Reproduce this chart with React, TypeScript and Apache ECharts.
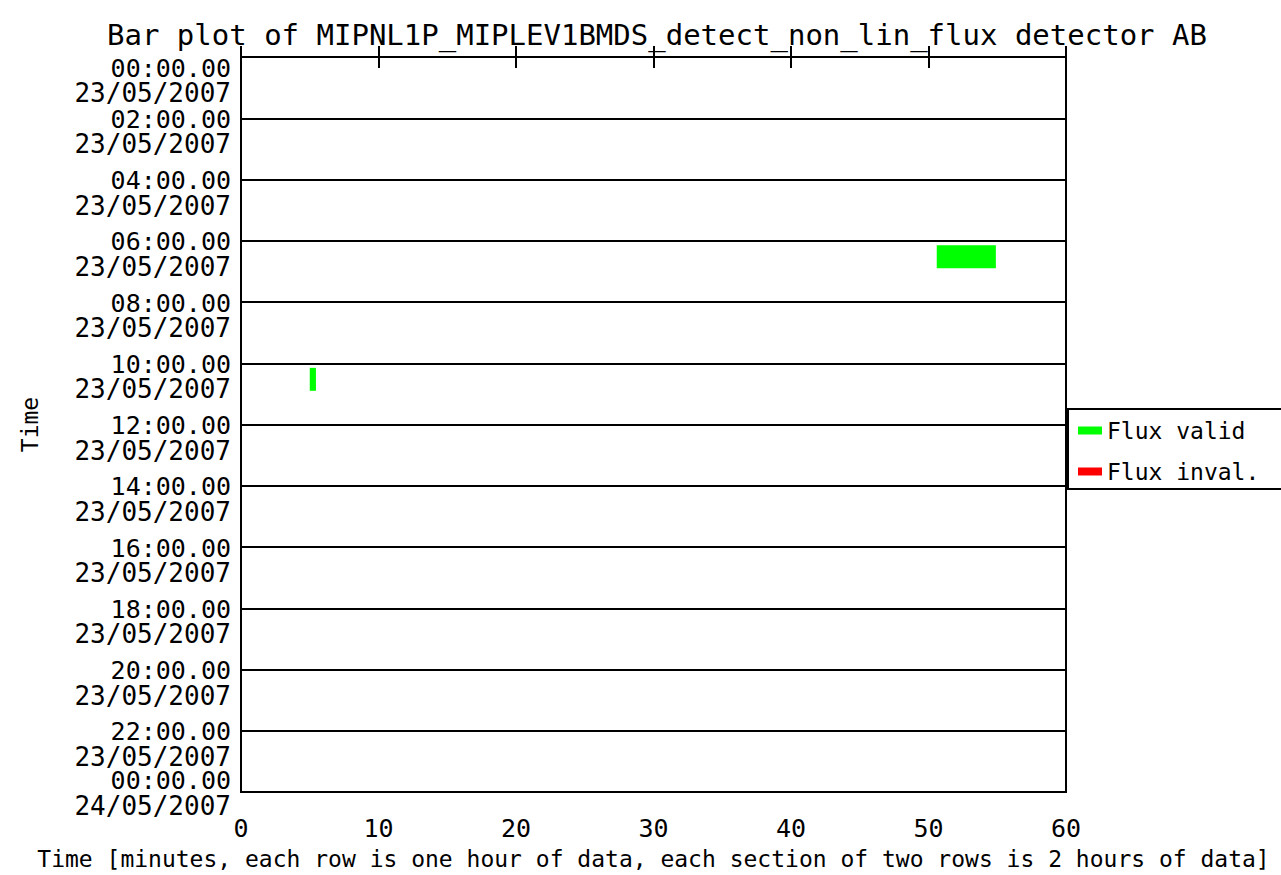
import React, { useEffect, useRef } from 'react';
import * as echarts from 'echarts';

const titleText = 'Bar plot of MIPNL1P_MIPLEV1BMDS_detect_non_lin_flux detector AB';
const xAxisName = 'Time [minutes, each row is one hour of data, each section of two rows is 2 hours of data]';
const yAxisName = 'Time';

const yTickHours = [0, 2, 4, 6, 8, 10, 12, 14, 16, 18, 20, 22, 24];
const timeLabels = ['00:00.00', '02:00.00', '04:00.00', '06:00.00', '08:00.00', '10:00.00', '12:00.00', '14:00.00', '16:00.00', '18:00.00', '20:00.00', '22:00.00', '00:00.00'];
const dateLabels = ['23/05/2007', '23/05/2007', '23/05/2007', '23/05/2007', '23/05/2007', '23/05/2007', '23/05/2007', '23/05/2007', '23/05/2007', '23/05/2007', '23/05/2007', '23/05/2007', '24/05/2007'];

const seriesNames = ['Flux valid', 'Flux inval.'];
const seriesColors = ['#00ff00', '#ff0000'];

// valid flux segments: hour row, start minute, end minute
const validHour = [6, 10];
const validStart = [50.6, 5.0];
const validEnd = [54.9, 5.45];

// invalid flux segments (none)
const invalidHour: number[] = [];
const invalidStart: number[] = [];
const invalidEnd: number[] = [];

const FONT = 'DejaVu Sans Mono';

function makeData(h: number[], s: number[], e: number[]) {
  return h.map((hv, i) => [hv, s[i], e[i]]);
}

function renderBar(color: string) {
  return (params: any, api: any) => {
    const hour = api.value(0);
    const s = api.value(1);
    const e = api.value(2);
    const p1 = api.coord([s, hour + 0.15]);
    const p2 = api.coord([e, hour + 0.9]);
    return {
      type: 'rect',
      shape: { x: p1[0], y: p1[1], width: p2[0] - p1[0], height: p2[1] - p1[1] },
      style: { fill: color },
    };
  };
}

export default function App() {
  const ref = useRef<HTMLDivElement>(null);
  useEffect(() => {
    if (!ref.current) return;
    const chart = echarts.init(ref.current, undefined, { renderer: 'svg' });
    const txt = { fontFamily: FONT, color: '#000' };
    const lastIdx = yTickHours.length - 1;
    const yBase = {
      type: 'value',
      min: 0,
      max: 24,
      interval: 2,
      inverse: true,
      position: 'left',
      offset: 0,
      axisTick: { show: false },
    };
    chart.setOption({
      animation: false,
      backgroundColor: '#fff',
      title: {
        text: titleText,
        left: 102,
        top: 15,
        textStyle: { ...txt, fontSize: 29, fontWeight: 'normal' },
      },
      grid: {
        left: 241,
        right: 215,
        top: 57,
        bottom: 83,
        outerBoundsMode: 'none',
        containLabel: false,
        show: true,
        borderColor: '#000',
        borderWidth: 2,
        backgroundColor: 'transparent',
      },
      legend: {
        orient: 'vertical',
        left: 1068,
        top: 409,
        itemWidth: 24,
        itemHeight: 8,
        itemGap: 18,
        padding: [10, 60, 6, 10],
        borderColor: '#000',
        borderWidth: 2,
        backgroundColor: '#fff',
        icon: 'rect',
        textStyle: { ...txt, fontSize: 23 },
        data: seriesNames,
      },
      xAxis: [
        {
          type: 'value',
          min: 0,
          max: 60,
          interval: 10,
          position: 'bottom',
          name: xAxisName,
          nameLocation: 'middle',
          nameGap: 55,
          nameTextStyle: { ...txt, fontSize: 23 },
          axisLine: { show: true, lineStyle: { color: '#000', width: 2 } },
          axisTick: { show: true, inside: true, length: 11, lineStyle: { color: '#000', width: 2 } },
          axisLabel: { ...txt, fontSize: 25, margin: 24 },
          splitLine: { show: false },
        },
        {
          type: 'value',
          min: 0,
          max: 60,
          interval: 10,
          position: 'top',
          axisLine: { show: true, lineStyle: { color: '#000', width: 2 } },
          axisTick: { show: true, inside: true, length: 11, lineStyle: { color: '#000', width: 2 } },
          axisLabel: { show: false },
          splitLine: { show: false },
        },
      ],
      yAxis: [
        {
          ...yBase,
          name: yAxisName,
          nameLocation: 'middle',
          nameGap: 200,
          nameRotate: 90,
          nameTextStyle: { ...txt, fontSize: 23 },
          axisLine: { show: true, lineStyle: { color: '#000', width: 2 } },
          splitLine: { show: true, lineStyle: { color: '#000', width: 2 } },
          axisLabel: {
            ...txt,
            fontSize: 25,
            margin: 10,
            verticalAlign: 'middle',
            showMinLabel: true,
            showMaxLabel: true,
            hideOverlap: false,
            formatter: (value: number) => {
              const i = yTickHours.indexOf(value);
              if (i < 0) return '';
              if (i === 0) return '{t0|' + timeLabels[i] + '}';
              if (i === lastIdx) return '{t2|' + timeLabels[i] + '}';
              return '{t|' + timeLabels[i] + '}';
            },
            rich: {
              t: { ...txt, fontSize: 25, lineHeight: 25, padding: [2, 0, 0, 0] },
              t0: { ...txt, fontSize: 25, lineHeight: 25, padding: [22, 0, 0, 0] },
              t2: { ...txt, fontSize: 25, lineHeight: 25, padding: [0, 0, 24, 0] },
            },
          },
        },
        {
          ...yBase,
          axisLine: { show: false },
          splitLine: { show: false },
          axisLabel: {
            ...txt,
            fontSize: 26,
            margin: 10,
            verticalAlign: 'top',
            showMinLabel: true,
            showMaxLabel: true,
            hideOverlap: false,
            formatter: (value: number) => {
              const i = yTickHours.indexOf(value);
              if (i <= 0) return '';
              if (i === lastIdx) return '{d2|' + dateLabels[i] + '}';
              return '{d|' + dateLabels[i] + '}';
            },
            rich: {
              d: { ...txt, fontSize: 26, lineHeight: 25, padding: [27, 0, 0, 0] },
              d2: { ...txt, fontSize: 26, lineHeight: 25, padding: [2, 0, 0, 0] },
            },
          },
        },
        {
          ...yBase,
          axisLine: { show: false },
          splitLine: { show: false },
          axisLabel: {
            ...txt,
            fontSize: 26,
            margin: 10,
            verticalAlign: 'top',
            showMinLabel: true,
            showMaxLabel: false,
            hideOverlap: false,
            formatter: (value: number) => {
              const i = yTickHours.indexOf(value);
              if (i !== 0) return '';
              return '{d0|' + dateLabels[i] + '}';
            },
            rich: {
              d0: { ...txt, fontSize: 26, lineHeight: 25, padding: [47, 0, 0, 0] },
            },
          },
        },
      ],
      series: [
        {
          name: seriesNames[0],
          type: 'custom',
          xAxisIndex: 0,
          yAxisIndex: 0,
          itemStyle: { color: seriesColors[0] },
          encode: { x: [1, 2], y: 0 },
          renderItem: renderBar(seriesColors[0]),
          data: makeData(validHour, validStart, validEnd),
        },
        {
          name: seriesNames[1],
          type: 'custom',
          xAxisIndex: 0,
          yAxisIndex: 0,
          itemStyle: { color: seriesColors[1] },
          encode: { x: [1, 2], y: 0 },
          renderItem: renderBar(seriesColors[1]),
          data: makeData(invalidHour, invalidStart, invalidEnd),
        },
      ],
    });
    return () => chart.dispose();
  }, []);
  return <div ref={ref} style={{ position: 'fixed', left: 0, top: 0, width: 1281, height: 875 }} />;
}
